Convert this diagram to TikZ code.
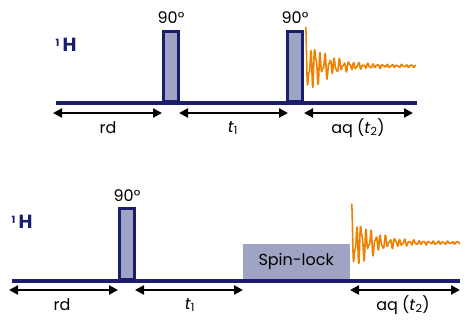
\documentclass[tikz,border=0pt]{standalone}
\usepackage{fontspec}
\setmainfont{Poppins}
\usetikzlibrary{arrows.meta}
\definecolor{navy}{RGB}{26,30,108}
\definecolor{lav}{RGB}{160,164,196}
\definecolor{fidc}{RGB}{240,128,0}
\tikzset{
  base/.style={draw=navy,line width=4pt},
  pulse/.style={draw=navy,fill=lav,line width=3pt},
  dim/.style={line width=2.6pt,{Triangle[length=9pt,width=9pt]}-{Triangle[length=9pt,width=9pt]}},
  fid/.style={draw=fidc,line width=1.6pt,line join=round},
  lbl/.style={font=\fontsize{16}{18}\selectfont,inner sep=0pt},
  nuc/.style={font=\fontsize{19}{21}\selectfont\bfseries,text=navy,inner sep=0pt}
}
\begin{document}
\begin{tikzpicture}[x=1pt,y=-1pt]
\useasboundingbox (0,0) rectangle (470,319);
% ---------- top ----------
\node[nuc] (h1) at (66,45) {\raisebox{0.45ex}{\fontsize{10}{11}\selectfont 1}\,H};
\draw[base] (56,103) -- (417,103);
\draw[pulse] (163.2,101) rectangle (178.5,31.5);
\draw[pulse] (287.2,101) rectangle (302.5,31.5);
\node[lbl] (p1) at (171,18) {90°};
\node[lbl] (p2) at (295,18) {90°};
\draw[fid] plot[domain=0:110,samples=300] ({305.7+\x},{66-(30*exp(-\x/20)+1.2)*(0.7*cos(\x*75)+0.35*cos(\x*128)+0.2*cos(\x*41))});
\coordinate (a1) at (53,113);
\coordinate (a2) at (162,113);
\coordinate (a3) at (179,113);
\coordinate (a4) at (288,113);
\coordinate (a5) at (304,113);
\coordinate (a6) at (413,113);
\draw[dim] (a1) -- (a2);
\draw[dim] (a3) -- (a4);
\draw[dim] (a5) -- (a6);
\node[lbl] (rd1) at (108,128) {rd};
\node[lbl] (t11) at (233,128) {\textit{t}\textsubscript{1}};
\node[lbl] (aq1) at (358,128) {aq (\textit{t}\textsubscript{2})};
% ---------- bottom ----------
\node[nuc] (h2) at (22,222) {\raisebox{0.45ex}{\fontsize{10}{11}\selectfont 1}\,H};
\node[fill=lav,minimum width=106.6pt,minimum height=36pt,inner sep=0pt,anchor=south west,font=\fontsize{16}{18}\selectfont] (sl) at (242.7,280) {Spin-lock};
\draw[base] (12,280.7) -- (460,280.7);
\draw[pulse] (119.8,279) rectangle (134.2,208.8);
\node[lbl] (p3) at (127,196) {90°};
\draw[fid] plot[domain=0:108,samples=300] ({351.7+\x},{242.7-(30*exp(-\x/20)+1.2)*(0.7*cos(\x*75)+0.35*cos(\x*128)+0.2*cos(\x*41))});
\coordinate (b1) at (9,290);
\coordinate (b2) at (118,290);
\coordinate (b3) at (135,290);
\coordinate (b4) at (243,290);
\coordinate (b5) at (350,290);
\coordinate (b6) at (460,290);
\draw[dim] (b1) -- (b2);
\draw[dim] (b3) -- (b4);
\draw[dim] (b5) -- (b6);
\node[lbl] (rd2) at (62,305) {rd};
\node[lbl] (t12) at (190,305) {\textit{t}\textsubscript{1}};
\node[lbl] (aq2) at (403,305) {aq (\textit{t}\textsubscript{2})};
\end{tikzpicture}
\end{document}
